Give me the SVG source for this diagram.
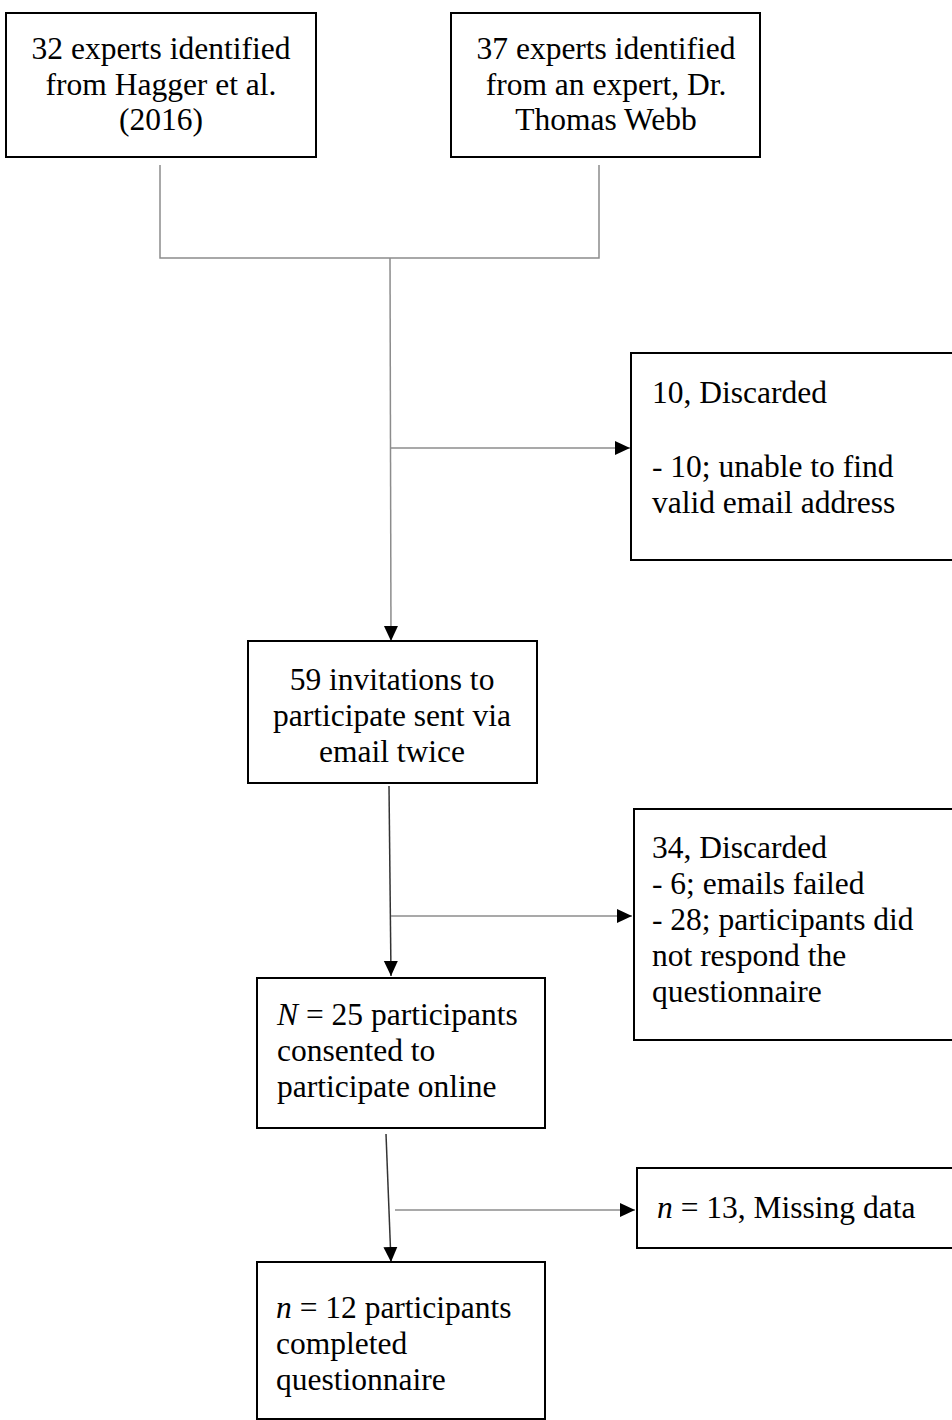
<svg xmlns="http://www.w3.org/2000/svg" width="952" height="1420" viewBox="0 0 952 1420">
<style>
.box{fill:#fff;stroke:#000;stroke-width:2}
text{font-family:"Liberation Serif","Times New Roman","DejaVu Serif",serif;font-size:31.5px;fill:#000}
.c{text-anchor:middle}
.g{stroke:#8c8c8c;stroke-width:1.5;fill:none}
.k{stroke:#333;stroke-width:1.5;fill:none}
</style>
<defs>
<marker id="ah" markerUnits="userSpaceOnUse" markerWidth="16" markerHeight="16" viewBox="0 0 16 16" refX="15" refY="8" orient="auto">
<path d="M0,1 L15,8 L0,15 Z" fill="#000"/>
</marker>
</defs>
<rect width="952" height="1420" fill="#fff"/>
<g id="connectors">
<polyline class="g" points="160,165 160,258 599,258 599,165"/>
<line class="g" x1="390" y1="258" x2="391" y2="641" marker-end="url(#ah)"/>
<line class="g" x1="391" y1="448" x2="630" y2="448" marker-end="url(#ah)"/>
<line class="k" x1="389" y1="786" x2="391" y2="976" marker-end="url(#ah)"/>
<line class="g" x1="391" y1="916" x2="632" y2="916" marker-end="url(#ah)"/>
<line class="k" x1="386" y1="1134" x2="391" y2="1262" marker-end="url(#ah)"/>
<line class="g" x1="395" y1="1210" x2="635" y2="1210" marker-end="url(#ah)"/>
</g>
<g font-family="'Liberation Serif', 'Times New Roman', serif">
<g id="n1">
<rect class="box" x="6" y="13" width="310" height="144"/>
<text class="c" x="161" y="59">32 experts identified</text>
<text class="c" x="161" y="95">from Hagger et al.</text>
<text class="c" x="161" y="130">(2016)</text>
</g>
<g id="n2">
<rect class="box" x="451" y="13" width="309" height="144"/>
<text class="c" x="606" y="59">37 experts identified</text>
<text class="c" x="606" y="95">from an expert, Dr.</text>
<text class="c" x="606" y="130">Thomas Webb</text>
</g>
<g id="n3">
<rect class="box" x="631" y="353" width="322" height="207"/>
<text x="652" y="403">10, Discarded</text>
<text x="652" y="477">- 10; unable to find</text>
<text x="652" y="513">valid email address</text>
</g>
<g id="n4">
<rect class="box" x="248" y="641" width="289" height="142"/>
<text class="c" x="392" y="690">59 invitations to</text>
<text class="c" x="392" y="726">participate sent via</text>
<text class="c" x="392" y="762">email twice</text>
</g>
<g id="n5">
<rect class="box" x="634" y="809" width="319" height="231"/>
<text x="652" y="858">34, Discarded</text>
<text x="652" y="894">- 6; emails failed</text>
<text x="652" y="930">- 28; participants did</text>
<text x="652" y="966">not respond the</text>
<text x="652" y="1002">questionnaire</text>
</g>
<g id="n6">
<rect class="box" x="257" y="978" width="288" height="150"/>
<text x="277" y="1025"><tspan font-style="italic">N</tspan> = 25 participants</text>
<text x="277" y="1061">consented to</text>
<text x="277" y="1097">participate online</text>
</g>
<g id="n7">
<rect class="box" x="637" y="1168" width="316" height="80"/>
<text x="657" y="1218"><tspan font-style="italic">n</tspan> = 13, Missing data</text>
</g>
<g id="n8">
<rect class="box" x="257" y="1262" width="288" height="157"/>
<text x="276" y="1318"><tspan font-style="italic">n</tspan> = 12 participants</text>
<text x="276" y="1354">completed</text>
<text x="276" y="1390">questionnaire</text>
</g>
</g>
</svg>
